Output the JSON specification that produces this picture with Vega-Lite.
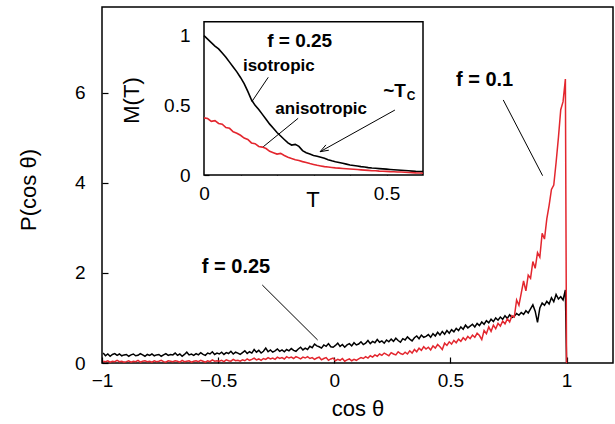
{
  "$schema": "https://vega.github.io/schema/vega-lite/v6.json",
  "width": 511,
  "height": 356,
  "autosize": {"type": "none"},
  "padding": {"left": 102, "top": 7, "right": 2, "bottom": 61},
  "config": {
    "font": "Liberation Sans",
    "view": {"stroke": "#000", "strokeWidth": 1.5},
    "axis": {
      "grid": false, "domain": false, "labelColor": "#000", "titleColor": "#000", "tickColor": "#000",
      "labelFont": "Liberation Sans", "titleFont": "Liberation Sans", "labelFontSize": 19, "titleFontSize": 22,
      "titleFontWeight": "normal", "tickSize": -6, "tickWidth": 1.2, "zindex": 1, "labelFlush": false, "format": "~g"
    },
    "text": {"font": "Liberation Sans"}
  },
  "datasets": {
    "hist": [
      {"x":-0.995,"b":0.22,"r":0.04},{"x":-0.985,"b":0.16,"r":0.03},{"x":-0.975,"b":0.20,"r":0.05},{"x":-0.965,"b":0.15,"r":0.02},{"x":-0.955,"b":0.19,"r":0.04},{"x":-0.945,"b":0.21,"r":0.03},{"x":-0.935,"b":0.17,"r":0.06},{"x":-0.925,"b":0.20,"r":0.03},{"x":-0.915,"b":0.16,"r":0.04},{"x":-0.905,"b":0.18,"r":0.02},
      {"x":-0.895,"b":0.19,"r":0.03},{"x":-0.885,"b":0.15,"r":0.05},{"x":-0.875,"b":0.18,"r":0.02},{"x":-0.865,"b":0.20,"r":0.04},{"x":-0.855,"b":0.16,"r":0.03},{"x":-0.845,"b":0.17,"r":0.06},{"x":-0.835,"b":0.21,"r":0.02},{"x":-0.825,"b":0.18,"r":0.04},{"x":-0.815,"b":0.15,"r":0.05},{"x":-0.805,"b":0.19,"r":0.03},
      {"x":-0.795,"b":0.17,"r":0.04},{"x":-0.785,"b":0.20,"r":0.02},{"x":-0.775,"b":0.16,"r":0.05},{"x":-0.765,"b":0.18,"r":0.03},{"x":-0.755,"b":0.19,"r":0.04},{"x":-0.745,"b":0.15,"r":0.06},{"x":-0.735,"b":0.18,"r":0.03},{"x":-0.725,"b":0.21,"r":0.02},{"x":-0.715,"b":0.17,"r":0.05},{"x":-0.705,"b":0.19,"r":0.04},
      {"x":-0.695,"b":0.18,"r":0.03},{"x":-0.685,"b":0.22,"r":0.05},{"x":-0.675,"b":0.17,"r":0.04},{"x":-0.665,"b":0.20,"r":0.02},{"x":-0.655,"b":0.15,"r":0.06},{"x":-0.645,"b":0.19,"r":0.03},{"x":-0.635,"b":0.24,"r":0.04},{"x":-0.625,"b":0.18,"r":0.05},{"x":-0.615,"b":0.20,"r":0.02},{"x":-0.605,"b":0.17,"r":0.04},
      {"x":-0.595,"b":0.21,"r":0.05},{"x":-0.585,"b":0.18,"r":0.03},{"x":-0.575,"b":0.23,"r":0.06},{"x":-0.565,"b":0.19,"r":0.04},{"x":-0.555,"b":0.17,"r":0.02},{"x":-0.545,"b":0.22,"r":0.05},{"x":-0.535,"b":0.20,"r":0.03},{"x":-0.525,"b":0.25,"r":0.07},{"x":-0.515,"b":0.19,"r":0.04},{"x":-0.505,"b":0.22,"r":0.05},
      {"x":-0.495,"b":0.20,"r":0.04},{"x":-0.485,"b":0.24,"r":0.06},{"x":-0.475,"b":0.19,"r":0.03},{"x":-0.465,"b":0.23,"r":0.07},{"x":-0.455,"b":0.21,"r":0.05},{"x":-0.445,"b":0.26,"r":0.04},{"x":-0.435,"b":0.20,"r":0.08},{"x":-0.425,"b":0.24,"r":0.05},{"x":-0.415,"b":0.22,"r":0.06},{"x":-0.405,"b":0.19,"r":0.04},
      {"x":-0.395,"b":0.23,"r":0.07},{"x":-0.385,"b":0.27,"r":0.05},{"x":-0.375,"b":0.21,"r":0.09},{"x":-0.365,"b":0.25,"r":0.06},{"x":-0.355,"b":0.22,"r":0.08},{"x":-0.345,"b":0.30,"r":0.11},{"x":-0.335,"b":0.24,"r":0.07},{"x":-0.325,"b":0.28,"r":0.09},{"x":-0.315,"b":0.22,"r":0.06},{"x":-0.305,"b":0.26,"r":0.10},
      {"x":-0.295,"b":0.33,"r":0.08},{"x":-0.285,"b":0.25,"r":0.12},{"x":-0.275,"b":0.29,"r":0.09},{"x":-0.265,"b":0.24,"r":0.11},{"x":-0.255,"b":0.27,"r":0.08},{"x":-0.245,"b":0.31,"r":0.13},{"x":-0.235,"b":0.26,"r":0.10},{"x":-0.225,"b":0.29,"r":0.12},{"x":-0.215,"b":0.25,"r":0.09},{"x":-0.205,"b":0.30,"r":0.14},
      {"x":-0.195,"b":0.27,"r":0.11},{"x":-0.185,"b":0.32,"r":0.13},{"x":-0.175,"b":0.28,"r":0.10},{"x":-0.165,"b":0.26,"r":0.14},{"x":-0.155,"b":0.31,"r":0.12},{"x":-0.145,"b":0.35,"r":0.09},{"x":-0.135,"b":0.29,"r":0.13},{"x":-0.125,"b":0.33,"r":0.11},{"x":-0.115,"b":0.30,"r":0.14},{"x":-0.105,"b":0.37,"r":0.10},
      {"x":-0.095,"b":0.34,"r":0.12},{"x":-0.085,"b":0.42,"r":0.08},{"x":-0.075,"b":0.38,"r":0.11},{"x":-0.065,"b":0.36,"r":0.13},{"x":-0.055,"b":0.33,"r":0.07},{"x":-0.045,"b":0.40,"r":0.10},{"x":-0.035,"b":0.37,"r":0.12},{"x":-0.025,"b":0.43,"r":0.06},{"x":-0.015,"b":0.36,"r":0.09},{"x":-0.005,"b":0.35,"r":0.11},
      {"x":0.005,"b":0.39,"r":0.05},{"x":0.015,"b":0.44,"r":0.08},{"x":0.025,"b":0.37,"r":0.06},{"x":0.035,"b":0.41,"r":0.10},{"x":0.045,"b":0.35,"r":0.04},{"x":0.055,"b":0.40,"r":0.07},{"x":0.065,"b":0.43,"r":0.09},{"x":0.075,"b":0.38,"r":0.05},{"x":0.085,"b":0.45,"r":0.08},{"x":0.095,"b":0.40,"r":0.06},
      {"x":0.105,"b":0.42,"r":0.09},{"x":0.115,"b":0.47,"r":0.12},{"x":0.125,"b":0.41,"r":0.10},{"x":0.135,"b":0.44,"r":0.14},{"x":0.145,"b":0.50,"r":0.11},{"x":0.155,"b":0.43,"r":0.16},{"x":0.165,"b":0.48,"r":0.13},{"x":0.175,"b":0.45,"r":0.18},{"x":0.185,"b":0.52,"r":0.15},{"x":0.195,"b":0.46,"r":0.20},
      {"x":0.205,"b":0.49,"r":0.17},{"x":0.215,"b":0.44,"r":0.22},{"x":0.225,"b":0.51,"r":0.19},{"x":0.235,"b":0.47,"r":0.16},{"x":0.245,"b":0.53,"r":0.23},{"x":0.255,"b":0.48,"r":0.20},{"x":0.265,"b":0.55,"r":0.18},{"x":0.275,"b":0.50,"r":0.25},{"x":0.285,"b":0.46,"r":0.21},{"x":0.295,"b":0.54,"r":0.19},
      {"x":0.305,"b":0.51,"r":0.24},{"x":0.315,"b":0.58,"r":0.20},{"x":0.325,"b":0.53,"r":0.27},{"x":0.335,"b":0.49,"r":0.22},{"x":0.345,"b":0.56,"r":0.30},{"x":0.355,"b":0.60,"r":0.25},{"x":0.365,"b":0.54,"r":0.33},{"x":0.375,"b":0.62,"r":0.28},{"x":0.385,"b":0.57,"r":0.36},{"x":0.395,"b":0.59,"r":0.31},
      {"x":0.405,"b":0.63,"r":0.35},{"x":0.415,"b":0.57,"r":0.29},{"x":0.425,"b":0.65,"r":0.38},{"x":0.435,"b":0.60,"r":0.33},{"x":0.445,"b":0.68,"r":0.41},{"x":0.455,"b":0.62,"r":0.36},{"x":0.465,"b":0.70,"r":0.30},{"x":0.475,"b":0.64,"r":0.44},{"x":0.485,"b":0.72,"r":0.39},{"x":0.495,"b":0.66,"r":0.47},
      {"x":0.505,"b":0.74,"r":0.42},{"x":0.515,"b":0.69,"r":0.50},{"x":0.525,"b":0.77,"r":0.45},{"x":0.535,"b":0.72,"r":0.53},{"x":0.545,"b":0.80,"r":0.48},{"x":0.555,"b":0.75,"r":0.56},{"x":0.565,"b":0.84,"r":0.51},{"x":0.575,"b":0.78,"r":0.59},{"x":0.585,"b":0.82,"r":0.54},{"x":0.595,"b":0.86,"r":0.62},
      {"x":0.605,"b":0.80,"r":0.57},{"x":0.615,"b":0.88,"r":0.66},{"x":0.625,"b":0.83,"r":0.61},{"x":0.635,"b":0.91,"r":0.52},{"x":0.645,"b":0.86,"r":0.72},{"x":0.655,"b":0.94,"r":0.65},{"x":0.665,"b":0.89,"r":0.80},{"x":0.675,"b":0.97,"r":0.70},{"x":0.685,"b":0.92,"r":0.84},{"x":0.695,"b":1.00,"r":0.76},
      {"x":0.705,"b":0.95,"r":0.88},{"x":0.715,"b":1.02,"r":0.82},{"x":0.725,"b":0.97,"r":0.93},{"x":0.735,"b":1.05,"r":0.87},{"x":0.745,"b":0.99,"r":0.98},{"x":0.755,"b":1.07,"r":0.91},{"x":0.765,"b":1.01,"r":1.05},{"x":0.775,"b":1.04,"r":1.02},{"x":0.785,"b":1.10,"r":1.40},{"x":0.795,"b":1.06,"r":1.28},
      {"x":0.805,"b":1.12,"r":1.55},{"x":0.815,"b":1.08,"r":1.82},{"x":0.825,"b":1.16,"r":1.60},{"x":0.835,"b":1.11,"r":1.95},{"x":0.845,"b":1.20,"r":1.88},{"x":0.855,"b":1.29,"r":2.25},{"x":0.865,"b":1.15,"r":2.10},{"x":0.875,"b":0.90,"r":2.45},{"x":0.885,"b":1.22,"r":2.35},{"x":0.895,"b":1.33,"r":2.88},
      {"x":0.905,"b":1.28,"r":2.75},{"x":0.915,"b":1.37,"r":3.20},{"x":0.925,"b":1.31,"r":3.50},{"x":0.935,"b":1.45,"r":3.85},{"x":0.945,"b":1.36,"r":3.95},{"x":0.955,"b":1.52,"r":4.45},{"x":0.965,"b":1.42,"r":5.00},{"x":0.975,"b":1.47,"r":5.62},{"x":0.985,"b":1.40,"r":5.80},{"x":0.995,"b":1.62,"r":6.30},
      {"x":1.0,"b":0,"r":0}
    ],
    "mt": [
      {"x":0.00,"b":1.000,"r":0.410},{"x":0.01,"b":0.975,"r":0.405},{"x":0.02,"b":0.950,"r":0.385},{"x":0.03,"b":0.925,"r":0.390},{"x":0.04,"b":0.905,"r":0.370},{"x":0.05,"b":0.875,"r":0.365},{"x":0.06,"b":0.845,"r":0.340},{"x":0.07,"b":0.810,"r":0.335},{"x":0.08,"b":0.775,"r":0.310},{"x":0.09,"b":0.740,"r":0.300},
      {"x":0.10,"b":0.700,"r":0.285},{"x":0.11,"b":0.655,"r":0.265},{"x":0.12,"b":0.600,"r":0.255},{"x":0.13,"b":0.540,"r":0.230},{"x":0.14,"b":0.500,"r":0.225},{"x":0.15,"b":0.470,"r":0.205},{"x":0.16,"b":0.435,"r":0.200},{"x":0.17,"b":0.400,"r":0.190},{"x":0.18,"b":0.365,"r":0.170},{"x":0.19,"b":0.335,"r":0.160},
      {"x":0.20,"b":0.305,"r":0.150},{"x":0.21,"b":0.280,"r":0.155},{"x":0.22,"b":0.255,"r":0.140},{"x":0.23,"b":0.230,"r":0.128},{"x":0.24,"b":0.215,"r":0.118},{"x":0.25,"b":0.220,"r":0.110},{"x":0.26,"b":0.205,"r":0.104},{"x":0.27,"b":0.175,"r":0.096},{"x":0.28,"b":0.160,"r":0.090},{"x":0.29,"b":0.150,"r":0.082},
      {"x":0.30,"b":0.140,"r":0.076},{"x":0.31,"b":0.135,"r":0.070},{"x":0.32,"b":0.128,"r":0.065},{"x":0.33,"b":0.120,"r":0.060},{"x":0.34,"b":0.110,"r":0.057},{"x":0.35,"b":0.102,"r":0.054},{"x":0.36,"b":0.095,"r":0.051},{"x":0.37,"b":0.090,"r":0.049},{"x":0.38,"b":0.084,"r":0.047},{"x":0.39,"b":0.078,"r":0.045},
      {"x":0.40,"b":0.072,"r":0.043},{"x":0.41,"b":0.068,"r":0.041},{"x":0.42,"b":0.064,"r":0.039},{"x":0.43,"b":0.060,"r":0.037},{"x":0.44,"b":0.057,"r":0.035},{"x":0.45,"b":0.053,"r":0.033},{"x":0.46,"b":0.050,"r":0.031},{"x":0.47,"b":0.048,"r":0.030},{"x":0.48,"b":0.046,"r":0.028},{"x":0.49,"b":0.044,"r":0.027},
      {"x":0.50,"b":0.042,"r":0.026},{"x":0.51,"b":0.040,"r":0.024},{"x":0.52,"b":0.038,"r":0.023},{"x":0.53,"b":0.036,"r":0.022},{"x":0.54,"b":0.034,"r":0.021},{"x":0.55,"b":0.032,"r":0.020},{"x":0.56,"b":0.030,"r":0.018},{"x":0.57,"b":0.028,"r":0.017},{"x":0.58,"b":0.026,"r":0.015},{"x":0.59,"b":0.025,"r":0.014},
      {"x":0.60,"b":0.024,"r":0.013}
    ],
    "annMain": [
      {"x":-0.310,"y":1.731,"x2":-0.0715,"y2":0.510},
      {"x":0.7275,"y":5.837,"x2":0.897,"y2":4.157}
    ],
    "labMain": [
      {"x":-0.423,"y":2.12,"text":"f = 0.25"},
      {"x":0.647,"y":6.28,"text":"f = 0.1"}
    ],
    "box": [{"x":0,"x2":0.6,"y":0,"y2":1.1}],
    "annInset": [
      {"x":0.176,"y":0.701,"x2":0.131,"y2":0.526},
      {"x":0.258,"y":0.407,"x2":0.1625,"y2":0.203},
      {"x":0.523,"y":0.466,"x2":0.318,"y2":0.167},
      {"x":0.342,"y":0.178,"x2":0.318,"y2":0.167},
      {"x":0.334,"y":0.216,"x2":0.318,"y2":0.167}
    ],
    "labInsetBig": [
      {"x":0.262,"y":0.961,"text":"f = 0.25"},
      {"x":0.522,"y":0.603,"text":"~T"}
    ],
    "labInset": [
      {"x":0.205,"y":0.782,"text":"isotropic"},
      {"x":0.321,"y":0.473,"text":"anisotropic"}
    ],
    "labSub": [
      {"x":0.567,"y":0.567,"text":"C"}
    ]
  },
  "layer": [
    {
      "layer": [
        {
          "data": {"name": "hist"},
          "transform": [{"fold": ["b", "r"], "as": ["s", "y"]}],
          "mark": {"type": "line", "strokeWidth": 1.5},
          "encoding": {
            "x": {"field": "x", "type": "quantitative",
              "scale": {"domain": [-1, 1.2], "nice": false, "zero": false},
              "axis": {"values": [-1, -0.5, 0, 0.5, 1], "title": "cos θ", "labelPadding": 14,
                "titleX": 255.5, "titleY": 45, "titleBaseline": "middle"}},
            "y": {"field": "y", "type": "quantitative",
              "scale": {"domain": [0, 7.9], "nice": false},
              "axis": {"values": [0, 2, 4, 6], "title": "P(cos θ)", "labelPadding": 23,
                "titleX": -74, "titleY": 182.5, "titleBaseline": "middle", "titleAngle": -90}},
            "color": {"field": "s", "type": "nominal", "scale": {"domain": ["b", "r"], "range": ["#000000", "#e3262e"]}, "legend": null}
          }
        },
        {
          "data": {"name": "annMain"},
          "mark": {"type": "rule", "color": "#000", "strokeWidth": 1},
          "encoding": {
            "x": {"field": "x", "type": "quantitative", "scale": {"domain": [-1, 1.2], "nice": false, "zero": false}},
            "y": {"field": "y", "type": "quantitative", "scale": {"domain": [0, 7.9], "nice": false}},
            "x2": {"field": "x2"},
            "y2": {"field": "y2"}
          }
        },
        {
          "data": {"name": "labMain"},
          "mark": {"type": "text", "fontSize": 20, "fontWeight": "bold", "color": "#000", "baseline": "middle", "align": "center"},
          "encoding": {
            "x": {"field": "x", "type": "quantitative", "scale": {"domain": [-1, 1.2], "nice": false, "zero": false}},
            "y": {"field": "y", "type": "quantitative", "scale": {"domain": [0, 7.9], "nice": false}},
            "text": {"field": "text"}
          }
        }
      ]
    },
    {
      "layer": [
        {
          "data": {"name": "box"},
          "mark": {"type": "rect", "fill": "#fff", "stroke": "#000", "strokeWidth": 1.5},
          "encoding": {
            "x": {"field": "x", "type": "quantitative", "scale": {"domain": [0, 0.6], "range": [102, 321], "nice": false, "zero": false},
              "axis": {"orient": "bottom", "offset": -188, "values": [0, 0.1, 0.2, 0.3, 0.4, 0.5],
                "labelExpr": "datum.value == 0 ? '0' : (datum.value == 0.5 ? '0.5' : '')",
                "title": "T", "labelPadding": 14, "tickSize": -5,
                "titleX": 210.5, "titleY": 24.5, "titleBaseline": "middle"}},
            "y": {"field": "y", "type": "quantitative", "scale": {"domain": [0, 1.1], "range": [168, 14.7], "nice": false},
              "axis": {"orient": "left", "offset": -102, "values": [0, 0.25, 0.5, 0.75, 1],
                "labelExpr": "datum.value == 0.25 || datum.value == 0.75 ? '' : datum.label",
                "title": "M(T)", "labelPadding": 19, "tickSize": -5,
                "titleX": -73, "titleY": 93, "titleBaseline": "middle", "titleAngle": -90}},
            "x2": {"field": "x2"},
            "y2": {"field": "y2"}
          }
        },
        {
          "data": {"name": "mt"},
          "transform": [{"fold": ["b", "r"], "as": ["s", "y"]}],
          "mark": {"type": "line", "strokeWidth": 1.6},
          "encoding": {
            "x": {"field": "x", "type": "quantitative", "scale": {"domain": [0, 0.6], "range": [102, 321], "nice": false, "zero": false}},
            "y": {"field": "y", "type": "quantitative", "scale": {"domain": [0, 1.1], "range": [168, 14.7], "nice": false}},
            "color": {"field": "s", "type": "nominal", "scale": {"domain": ["b", "r"], "range": ["#000000", "#e3262e"]}, "legend": null}
          }
        },
        {
          "data": {"name": "annInset"},
          "mark": {"type": "rule", "color": "#000", "strokeWidth": 1},
          "encoding": {
            "x": {"field": "x", "type": "quantitative", "scale": {"domain": [0, 0.6], "range": [102, 321], "nice": false, "zero": false}},
            "y": {"field": "y", "type": "quantitative", "scale": {"domain": [0, 1.1], "range": [168, 14.7], "nice": false}},
            "x2": {"field": "x2"},
            "y2": {"field": "y2"}
          }
        },
        {
          "data": {"name": "labInsetBig"},
          "mark": {"type": "text", "fontSize": 19, "fontWeight": "bold", "color": "#000", "baseline": "middle", "align": "center"},
          "encoding": {
            "x": {"field": "x", "type": "quantitative", "scale": {"domain": [0, 0.6], "range": [102, 321], "nice": false, "zero": false}},
            "y": {"field": "y", "type": "quantitative", "scale": {"domain": [0, 1.1], "range": [168, 14.7], "nice": false}},
            "text": {"field": "text"}
          }
        },
        {
          "data": {"name": "labInset"},
          "mark": {"type": "text", "fontSize": 17, "fontWeight": "bold", "color": "#000", "baseline": "middle", "align": "center"},
          "encoding": {
            "x": {"field": "x", "type": "quantitative", "scale": {"domain": [0, 0.6], "range": [102, 321], "nice": false, "zero": false}},
            "y": {"field": "y", "type": "quantitative", "scale": {"domain": [0, 1.1], "range": [168, 14.7], "nice": false}},
            "text": {"field": "text"}
          }
        },
        {
          "data": {"name": "labSub"},
          "mark": {"type": "text", "fontSize": 12, "fontWeight": "bold", "color": "#000", "baseline": "middle", "align": "center"},
          "encoding": {
            "x": {"field": "x", "type": "quantitative", "scale": {"domain": [0, 0.6], "range": [102, 321], "nice": false, "zero": false}},
            "y": {"field": "y", "type": "quantitative", "scale": {"domain": [0, 1.1], "range": [168, 14.7], "nice": false}},
            "text": {"field": "text"}
          }
        }
      ]
    }
  ],
  "resolve": {"scale": {"x": "independent", "y": "independent"}}
}
